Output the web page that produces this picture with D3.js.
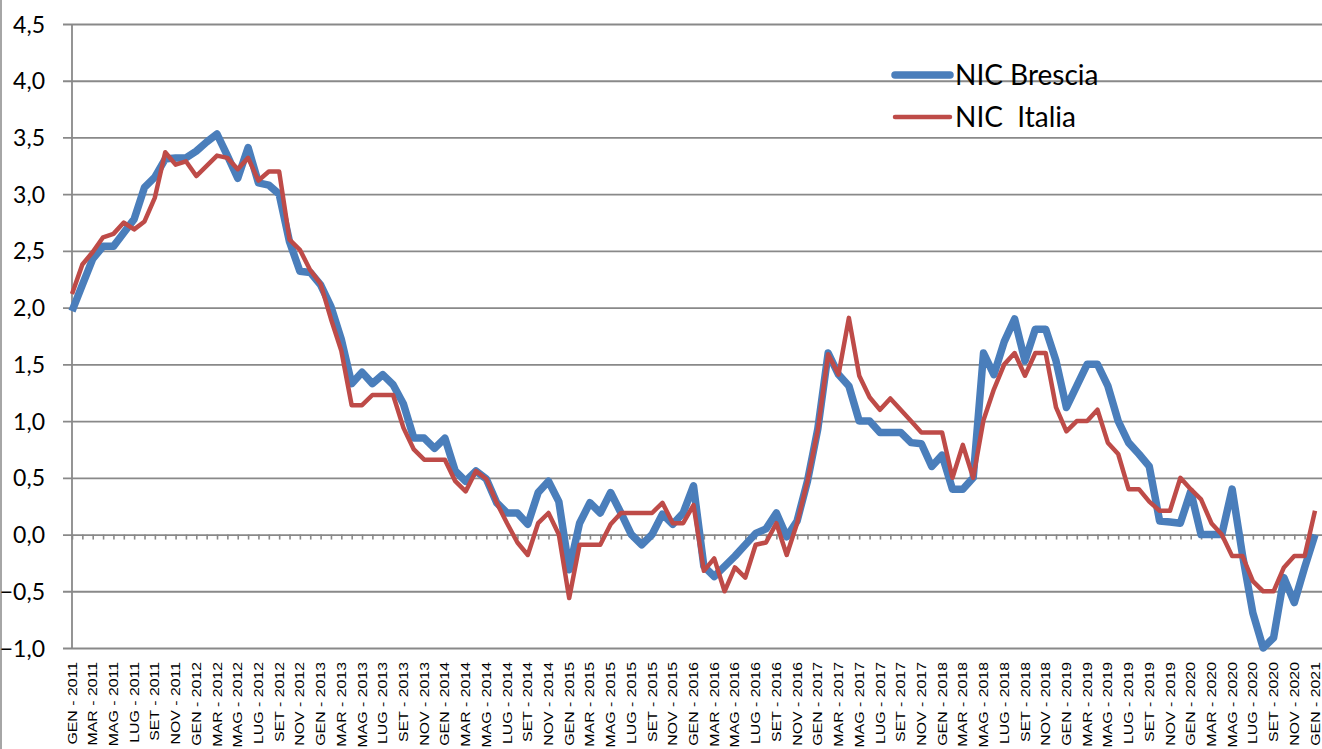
<!DOCTYPE html>
<html lang="it">
<head>
<meta charset="utf-8">
<script src="https://cdn.jsdelivr.net/npm/d3@7"></script>
<style>
  body { margin: 0; background: #fff; }
  .ylab { font-family: Lato, "Open Sans", sans-serif; font-size: 23px; fill: #000; }
  .xlab { font-family: "Liberation Sans", Arial, sans-serif; font-size: 13px; fill: #000; }
  .leg { font-family: Lato, "Open Sans", sans-serif; font-size: 28px; fill: #000; }
</style>
</head>
<body>
<script>
// mesi e anni (GEN 2011 - GEN 2021)
const mesi = ["GEN", "FEB", "MAR", "APR", "MAG", "GIU", "LUG", "AGO", "SET", "OTT", "NOV", "DIC"];
const anni = [2011, 2012, 2013, 2014, 2015, 2016, 2017, 2018, 2019, 2020, 2021];

const periodi = [];
anni.forEach(a => mesi.forEach(m => { if (periodi.length < 121) periodi.push(m + " - " + a); }));

const yTicks = [-1.0, -0.5, 0.0, 0.5, 1.0, 1.5, 2.0, 2.5, 3.0, 3.5, 4.0, 4.5];

// NIC Brescia
const brescia = [
  1.97, 2.2, 2.43, 2.54, 2.54, 2.66, 2.78, 3.06, 3.15, 3.31, 3.32, 3.32,
  3.38, 3.46, 3.53, 3.34, 3.14, 3.41, 3.1, 3.08, 3.0, 2.58, 2.32, 2.31,
  2.2, 2.01, 1.72, 1.33, 1.43, 1.33, 1.41, 1.32, 1.15, 0.85, 0.85, 0.76,
  0.85, 0.56, 0.47, 0.56, 0.49, 0.28, 0.19, 0.19, 0.09, 0.37, 0.47, 0.29,
  -0.31, 0.1, 0.28, 0.19, 0.37, 0.19, 0.0, -0.09, 0.0, 0.18, 0.09, 0.19,
  0.43, -0.28, -0.37, -0.28, -0.19, -0.09, 0.01, 0.05, 0.19, -0.02, 0.12, 0.47,
  0.93, 1.6, 1.41, 1.31, 1.0, 1.0, 0.9, 0.9, 0.9, 0.81, 0.8, 0.6,
  0.7, 0.4, 0.4, 0.5, 1.6, 1.41, 1.7, 1.9, 1.53, 1.81, 1.81, 1.53,
  1.12, 1.31, 1.5, 1.5, 1.31, 1.0, 0.81, 0.71, 0.6, 0.12, 0.11, 0.1,
  0.38, 0.0, 0.0, 0.0, 0.4, -0.18, -0.69, -1.0, -0.91, -0.38, -0.6, -0.29,
  0.0
];

// NIC Italia
const italia = [
  2.12, 2.38, 2.49, 2.62, 2.65, 2.75, 2.69, 2.76, 2.97, 3.37, 3.26, 3.29,
  3.16, 3.25, 3.34, 3.32, 3.22, 3.32, 3.12, 3.2, 3.2, 2.6, 2.51, 2.33,
  2.21, 1.9, 1.62, 1.14, 1.14, 1.23, 1.23, 1.23, 0.94, 0.75, 0.66, 0.66,
  0.66, 0.47, 0.38, 0.56, 0.49, 0.28, 0.1, -0.07, -0.18, 0.1, 0.19, 0.0,
  -0.56, -0.09, -0.09, -0.09, 0.09, 0.19, 0.19, 0.19, 0.19, 0.28, 0.1, 0.1,
  0.26, -0.32, -0.21, -0.5, -0.29, -0.38, -0.09, -0.07, 0.1, -0.18, 0.1, 0.47,
  0.92, 1.59, 1.41, 1.91, 1.4, 1.21, 1.1, 1.2, 1.1, 1.0, 0.9, 0.9,
  0.9, 0.5, 0.79, 0.5, 1.01, 1.28, 1.5, 1.6, 1.4, 1.6, 1.6, 1.12,
  0.91, 1.0, 1.0, 1.1, 0.81, 0.71, 0.4, 0.4, 0.29, 0.21, 0.21, 0.5,
  0.4, 0.31, 0.1, 0.0, -0.19, -0.19, -0.41, -0.5, -0.5, -0.29, -0.19, -0.19,
  0.21
];

const serie = [
  { nome: "NIC Brescia", valori: brescia, colore: "#4a7ebb", spessore: 7.5 },
  { nome: "NIC  Italia", valori: italia, colore: "#be4b48", spessore: 4.5 }
];

const w = 1322, h = 749;
const svg = d3.select("body").append("svg")
  .attr("width", w).attr("height", h);

const pLeft = 72, pRight = 1315, pTop = 24, pBottom = 648;
const grigio = "#898989";

const xScale = d3.scalePoint().domain(periodi).range([pLeft, pRight]);
const yScale = d3.scaleLinear().domain([-1, 4.5]).range([pBottom, pTop]);

// bordo sinistro
svg.append("line")
  .attr("x1", 1).attr("x2", 1).attr("y1", 0).attr("y2", h)
  .attr("stroke", "#a6a6a6").attr("stroke-width", 2);

// griglia + etichette asse y
const yAxis = d3.axisLeft(yScale)
  .tickValues(yTicks)
  .tickSize(-(w - pLeft))
  .tickPadding(0)
  .tickFormat(d => d3.format(".1f")(d).replace(".", ","));

const gy = svg.append("g")
  .attr("transform", "translate(" + pLeft + ",0)")
  .call(yAxis);
gy.select(".domain").remove();
gy.selectAll(".tick line")
  .attr("x1", -9)
  .attr("stroke", grigio).attr("stroke-width", 1.8);
gy.selectAll(".tick text")
  .attr("class", "ylab")
  .attr("x", -27)
  .attr("dy", "0.35em");
gy.attr("font-size", null).attr("font-family", null);

// asse verticale
svg.append("line")
  .attr("x1", pLeft).attr("x2", pLeft).attr("y1", pTop).attr("y2", pBottom)
  .attr("stroke", grigio).attr("stroke-width", 1.8);

// asse x sullo zero, con tacche mensili
const xAxis = d3.axisBottom(xScale).tickSize(5).tickFormat("");
const gx = svg.append("g")
  .attr("transform", "translate(0," + yScale(0) + ")")
  .call(xAxis);
gx.select(".domain").remove();
gx.selectAll(".tick line").attr("stroke", grigio).attr("stroke-width", 1.6);

// etichette x (una ogni due mesi)
svg.append("g").selectAll("text")
  .data(periodi.filter((d, i) => i % 2 === 0))
  .enter()
  .append("text")
  .attr("class", "xlab")
  .attr("text-anchor", "end")
  .attr("dy", "0.35em")
  .attr("transform", d => "translate(" + xScale(d) + "," + 662 + ") rotate(-90) scale(1.22,1)")
  .text(d => d);

// linee
const line = d3.line()
  .x((d, i) => xScale(periodi[i]))
  .y(d => yScale(d));

svg.selectAll("path.serie")
  .data(serie)
  .enter()
  .append("path")
  .attr("class", "serie")
  .attr("d", d => line(d.valori))
  .attr("fill", "none")
  .attr("stroke", d => d.colore)
  .attr("stroke-width", d => d.spessore)
  .attr("stroke-linejoin", "round");

// legenda
const leg = svg.append("g").selectAll("g")
  .data(serie)
  .enter()
  .append("g")
  .attr("transform", (d, i) => "translate(895," + (75 + i * 42) + ")");

leg.append("line")
  .attr("x1", 0).attr("x2", 55)
  .attr("stroke", d => d.colore)
  .attr("stroke-width", d => d.spessore)
  .attr("stroke-linecap", "round");

leg.append("text")
  .attr("class", "leg")
  .attr("x", 60)
  .attr("dy", "0.36em")
  .style("white-space", "pre")
  .text(d => d.nome);
</script>
</body>
</html>
